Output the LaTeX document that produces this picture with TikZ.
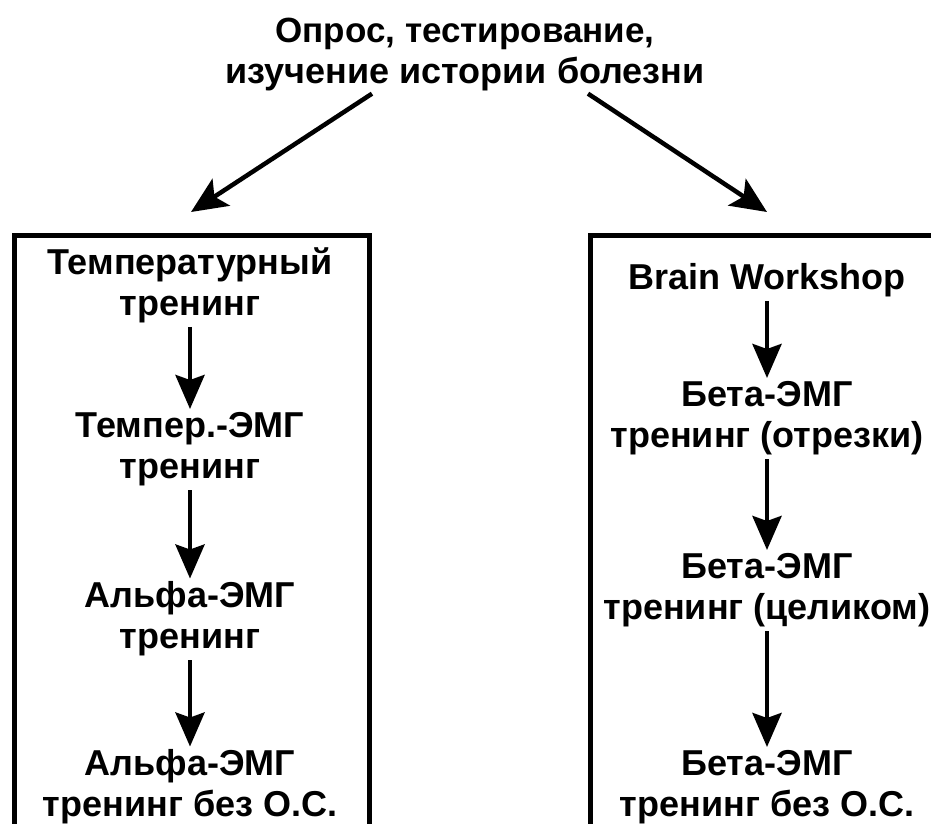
\documentclass[tikz,border=0pt]{standalone}
\usepackage{fontspec}
\setmainfont{Liberation Sans}
\usetikzlibrary{arrows.meta}
\begin{document}
\begin{tikzpicture}[x=1pt,y=-1pt,every node/.style={font=\bfseries\fontsize{36}{41}\selectfont, align=center, inner sep=0pt},
  flow/.style={line width=4.5pt, -{Stealth[length=34pt,width=29pt,inset=5pt]}, shorten <=4pt, shorten >=3pt},
  diag/.style={line width=4.5pt, -{Stealth[length=36pt,width=32pt,inset=8pt]}},
  frame/.style={line width=5pt}]
\clip (0,0) rectangle (931,823);

\node (title) at (465,55) {\fontsize{35}{44}\selectfont Опрос, тестирование,\\изучение истории болезни};

\draw[frame] (14,840) |- (369,235) -- (369,840);
\draw[frame] (590,840) |- (950,235);

\node (temp)  at (190,285) {Температурный\\тренинг};
\node (tempemg) at (190,449) {Темпер.-ЭМГ\\тренинг};
\node (alpha) at (190,619) {Альфа-ЭМГ\\тренинг};
\node (alphanofb) at (190,787) {Альфа-ЭМГ\\тренинг без О.С.};

\node (brain) at (767,280) {Brain Workshop};
\node (betaparts) at (767,418) {Бета-ЭМГ\\тренинг (отрезки)};
\node (betafull) at (767,590) {Бета-ЭМГ\\тренинг (целиком)};
\node (betanofb) at (767,787) {Бета-ЭМГ\\тренинг без О.С.};

\coordinate (tipL) at (191,212);
\coordinate (tipR) at (767,212);
\draw[diag] ([shift={(-93pt,-2pt)}]title.south) -- (tipL);
\draw[diag] ([shift={(123pt,-2pt)}]title.south) -- (tipR);

\draw[flow] (temp) -- (tempemg);
\draw[flow] (tempemg) -- (alpha);
\draw[flow] (alpha) -- (alphanofb);
\draw[flow] (brain) -- (betaparts);
\draw[flow] (betaparts) -- (betafull);
\draw[flow] (betafull) -- (betanofb);
\end{tikzpicture}
\end{document}
